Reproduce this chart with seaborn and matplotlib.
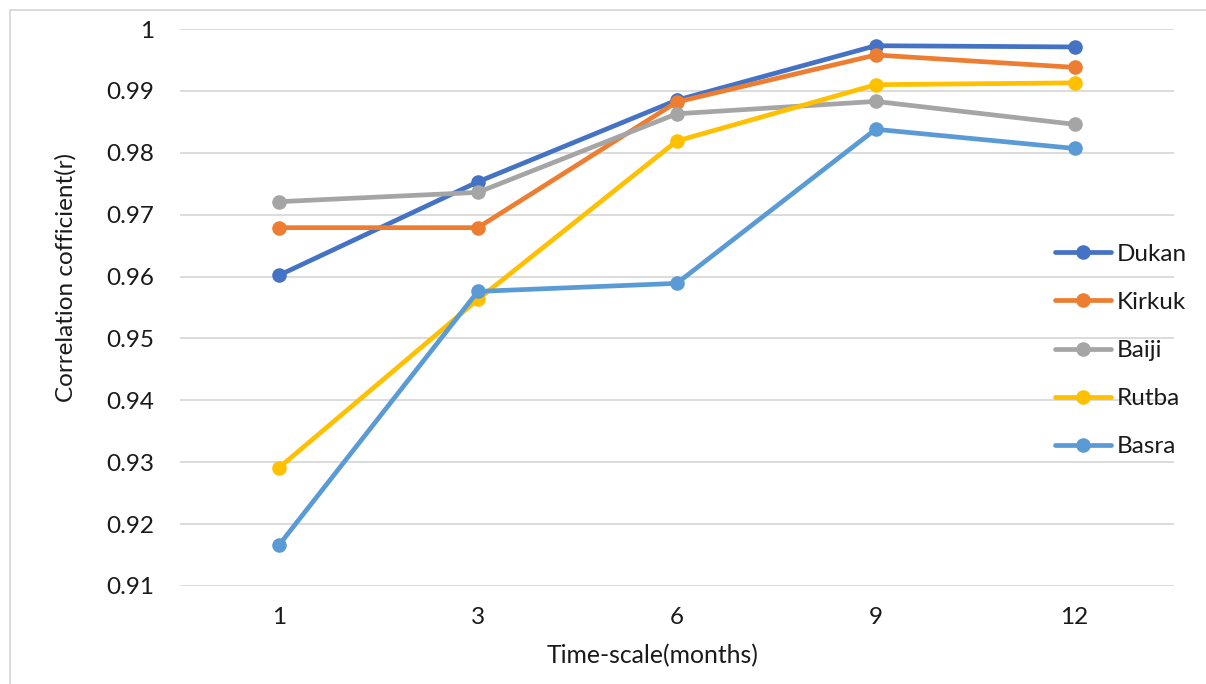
import matplotlib
matplotlib.use("Agg")
import matplotlib.pyplot as plt
import seaborn as sns
import pandas as pd
from matplotlib.lines import Line2D

# ---- data ----
timescales = ["1", "3", "6", "9", "12"]
dukan = [0.9602, 0.9753, 0.9885, 0.9973, 0.9971]
kirkuk = [0.9679, 0.9679, 0.9882, 0.9958, 0.9938]
baiji = [0.9721, 0.9736, 0.9863, 0.9883, 0.9846]
rutba = [0.9291, 0.9563, 0.9819, 0.9910, 0.9913]
basra = [0.9166, 0.9576, 0.9589, 0.9838, 0.9807]
stations = ["Dukan", "Kirkuk", "Baiji", "Rutba", "Basra"]
colors = ["#4472C4", "#ED7D31", "#A5A5A5", "#FFC000", "#5B9BD5"]
yticks = [0.91, 0.92, 0.93, 0.94, 0.95, 0.96, 0.97, 0.98, 0.99, 1.0]
ytick_labels = ["0.91", "0.92", "0.93", "0.94", "0.95", "0.96", "0.97", "0.98", "0.99", "1"]

series = dict(zip(stations, [dukan, kirkuk, baiji, rutba, basra]))
rows = []
for s in stations:
    for i, (t, v) in enumerate(zip(timescales, series[s])):
        rows.append({"pos": i, "Time-scale": t, "Station": s, "r": v})
df = pd.DataFrame(rows)

sns.set_theme(style="white")
plt.rcParams["font.family"] = ["Lato", "DejaVu Sans"]
text_color = "#1a1a1a"
fs = 17.5

fig = plt.figure(figsize=(12.06, 6.84), dpi=100)
ax = fig.add_axes([179.5 / 1206, 1 - 586 / 684, (1174 - 179.5) / 1206, (586 - 29) / 684])

sns.lineplot(data=df, x="pos", y="r", hue="Station", hue_order=stations,
             palette=colors, marker="o", markersize=10.5, markeredgewidth=0,
             linewidth=3.4, ax=ax, legend=False, sort=False)

ax.set_xlim(-0.5, len(timescales) - 0.5)
ax.set_ylim(0.91, 1.0)
ax.set_xticks(range(len(timescales)))
ax.set_xticklabels(timescales)
ax.set_yticks(yticks)
ax.set_yticklabels(ytick_labels)
ax.yaxis.grid(True, color="#D9D9D9", linewidth=1.3)
ax.set_axisbelow(True)
for sp in ax.spines.values():
    sp.set_visible(False)
ax.tick_params(axis="both", length=0, labelsize=fs, colors=text_color)
ax.tick_params(axis="y", pad=18.5)
ax.tick_params(axis="x", pad=15)
ax.set_xlabel("Time-scale(months)", fontsize=17.8, color=text_color, va="center")
ax.set_ylabel("Correlation cofficient(r)", fontsize=fs, color=text_color, va="center")
ax.xaxis.set_label_coords((653 - 179.5) / 994.5, (586 - 656) / 557)
ax.yaxis.set_label_coords((66 - 179.5) / 994.5, (586 - 277) / 557)

handles = [Line2D([0], [0], color=c, linewidth=3.4, marker="o", markersize=10.5,
                  markeredgewidth=0) for c in colors]
leg = ax.legend(handles, stations, loc="center left",
                bbox_to_anchor=((1055 - 179.5) / 994.5, (586 - 350.5) / 557),
                frameon=False, fontsize=fs, handlelength=2.3, handletextpad=0.25,
                labelspacing=1.12, borderaxespad=0, borderpad=0)
for t in leg.get_texts():
    t.set_color(text_color)

# outer chart border (left and top visible)
fig.add_artist(Line2D([10 / 1206, 10 / 1206], [1 - 10 / 684, 0], transform=fig.transFigure,
                      color="#D9D9D9", linewidth=1.3))
fig.add_artist(Line2D([10 / 1206, 1], [1 - 10 / 684, 1 - 10 / 684], transform=fig.transFigure,
                      color="#D9D9D9", linewidth=1.3))

fig.savefig("out.png", dpi=100)
